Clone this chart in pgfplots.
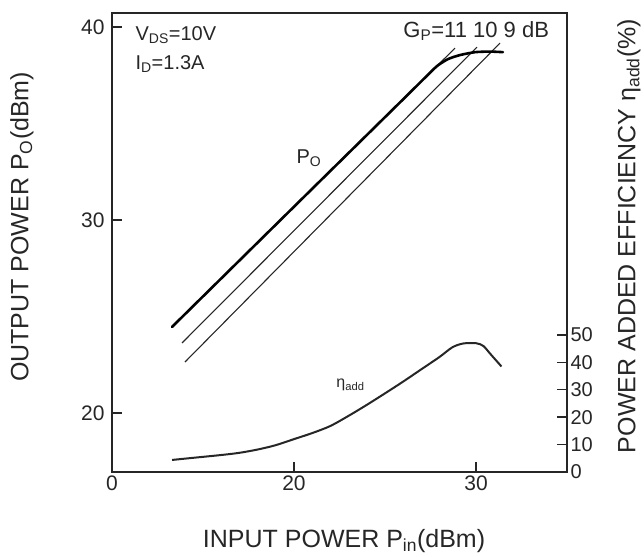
\documentclass[border=0pt]{standalone}
\usepackage{fontspec}
\setmainfont{Liberation Sans}
\usepackage{pgfplots}
\pgfplotsset{compat=1.18}
\definecolor{ink}{HTML}{262626}
\begin{document}
\begin{tikzpicture}[x=1pt,y=1pt]
\begin{axis}[
  at={(0pt,0pt)}, anchor=south west,
  scale only axis, width=455pt, height=459pt,
  xmin=10, xmax=35, ymin=16.94, ymax=40.73,
  axis line style={line width=1.6pt, color=ink},
  tick align=inside, xtick pos=bottom, ytick pos=left,
  major tick length=10pt,
  tick style={line width=1.4pt, color=ink},
  xtick={10,20,30}, xticklabels={0,20,30},
  ytick={20,30,40},
  /pgf/number format/assume math mode=true,
  ticklabel style={font=\fontsize{21}{21}\selectfont, text=ink},
  yticklabel style={xshift=-4pt},
  xlabel={INPUT POWER P\textsubscript{in}(dBm)},
  ylabel={OUTPUT POWER P\textsubscript{O}(dBm)},
  x label style={at={(axis description cs:0.51,-0.15)}, anchor=center, font=\fontsize{25}{25}\selectfont, text=ink},
  y label style={at={(axis description cs:-0.198,0.534)}, anchor=center, font=\fontsize{25}{25}\selectfont, text=ink},
  clip=false,
]
\addplot[line width=1.1pt, color=ink] coordinates {(13.30,24.46) (28.85,38.91)};
\addplot[line width=1.1pt, color=ink] coordinates {(13.85,23.63) (30.05,38.96)};
\addplot[line width=1.1pt, color=ink] coordinates {(14.01,22.64) (31.32,39.17)};
\addplot[line width=2.6pt, color=black, line cap=round, smooth, tension=0.4] coordinates {
  (13.30,24.46) (20,30.69) (26,36.26) (27.2,37.38) (27.86,37.98) (28.46,38.34)
  (29.12,38.55) (29.95,38.70) (30.77,38.73) (31.48,38.70)};
\node[anchor=base west, font=\fontsize{20}{20}\selectfont, text=ink] at (axis cs:11.10,39.33) {V\textsubscript{DS}=10V};
\node[anchor=base west, font=\fontsize{20}{20}\selectfont, text=ink] at (axis cs:11.10,37.82) {I\textsubscript{D}=1.3A};
\node[anchor=base west, font=\fontsize{22}{22}\selectfont, text=ink] at (axis cs:25.82,39.48) {G\textsubscript{P}=11 10 9 dB};
\node[anchor=base west, font=\fontsize{20}{20}\selectfont, text=ink] at (axis cs:19.95,32.95) {P\textsubscript{O}};
\node[anchor=base west, font=\fontsize{16}{16}\selectfont, text=ink] at (axis cs:22.14,21.30) {η\textsubscript{add}};
\end{axis}
\begin{axis}[
  at={(0pt,0pt)}, anchor=south west,
  scale only axis, width=455pt, height=459pt,
  xmin=10, xmax=35, ymin=0, ymax=167.5,
  axis x line=none, axis y line*=right,
  axis line style={line width=1.6pt, color=ink},
  tick align=inside, ytick pos=right,
  major tick length=10pt,
  tick style={line width=1.4pt, color=ink},
  ytick={0,10,20,30,40,50},
  /pgf/number format/assume math mode=true,
  ticklabel style={font=\fontsize{20}{20}\selectfont, text=ink},
  ylabel={POWER ADDED EFFICIENCY η\textsubscript{add}(\%)},
  y label style={at={(axis description cs:1.136,0.514)}, anchor=center, font=\fontsize{25}{25}\selectfont, text=ink},
  clip=false,
]
\addplot[line width=2pt, color=ink, smooth, tension=0.5] coordinates {
  (13.3,4.4) (14.5,5.2) (16,6.2) (17,7) (18,8.2) (19,9.8) (20,12) (21,14.2)
  (22,16.8) (23,20.5) (24,24.5) (25,28.7) (26,33) (27,37.5) (28,42)
  (28.7,45.5) (29.3,46.9) (30,47) (30.4,46) (30.8,43) (31.4,38.5)};
\end{axis}
\pgfresetboundingbox
\path[use as bounding box] (-112pt,-84pt) rectangle (532pt,472pt);
\end{tikzpicture}
\end{document}
